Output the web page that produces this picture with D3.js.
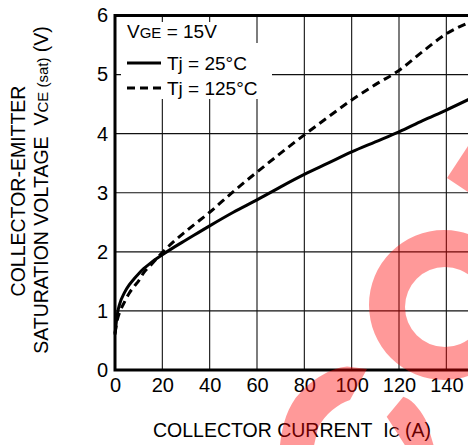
<!DOCTYPE html>
<html>
<head>
<meta charset="utf-8">
<script src="https://cdn.jsdelivr.net/npm/d3@7"></script>
<style>
  html,body{margin:0;padding:0;background:#fff;}
  svg{display:block;font-family:"Liberation Sans",Arial,Helvetica,sans-serif;}
</style>
</head>
<body>
<svg id="chart" width="468" height="445"></svg>
<script>
// collector current Ic (A)
const current=[0,1,2,4,6,8,10,12,15,20,25,30,40,50,60,70,80,90,100,110,120,130,140,150];
// Vce(sat) at Tj = 25°C
const vce25=[0.6,0.95,1.12,1.31,1.44,1.54,1.63,1.71,1.81,1.95,2.08,2.2,2.44,2.67,2.88,3.1,3.31,3.5,3.69,3.86,4.03,4.22,4.4,4.59];
// Vce(sat) at Tj = 125°C
const vce125=[0.62,0.85,0.98,1.15,1.3,1.41,1.51,1.64,1.77,1.99,2.18,2.35,2.67,3.02,3.35,3.67,3.98,4.28,4.57,4.83,5.07,5.39,5.69,5.89];
const xTicks=[0,20,40,60,80,100,120,140];
const yTicks=[0,1,2,3,4,5,6];
const seriesNames=["Tj = 25°C","Tj = 125°C"];

const W=468,H=445;
const font='"Liberation Sans",Arial,Helvetica,sans-serif';
const svg=d3.select("#chart");

const x=d3.scaleLinear().domain([0,150]).range([115,470]);
const y=d3.scaleLinear().domain([0,6]).range([370,15.5]);

// grid
const grid=svg.append("g").attr("stroke","#111").attr("stroke-width",1.1);
grid.selectAll("line.v").data(xTicks.filter(d=>d>0)).join("line").attr("class","v")
  .attr("x1",d=>x(d)).attr("x2",d=>x(d)).attr("y1",y(6)).attr("y2",y(0));
grid.selectAll("line.h").data(yTicks.filter(d=>d>0&&d<6)).join("line").attr("class","h")
  .attr("x1",x(0)).attr("x2",W).attr("y1",d=>y(d)).attr("y2",d=>y(d));

// legend backgrounds hide the grid
svg.append("rect").attr("x",121).attr("y",22).attr("width",130).attr("height",22).attr("fill","#fff");
svg.append("rect").attr("x",121).attr("y",43).attr("width",151).attr("height",56).attr("fill","#fff");

// frame
const frame=svg.append("g").attr("stroke","#000").attr("stroke-width",3).attr("fill","none");
frame.append("path").attr("d",`M${W},${y(6)}H${x(0)}V${y(0)}H${W}`);

// axes
const xAxis=svg.append("g").attr("transform",`translate(0,${y(0)})`)
  .call(d3.axisBottom(x).tickValues(xTicks).tickSize(0).tickPadding(8).tickFormat(d3.format("d")));
const yAxis=svg.append("g").attr("transform",`translate(${x(0)},0)`)
  .call(d3.axisLeft(y).tickValues(yTicks).tickSize(0).tickPadding(7).tickFormat(d3.format("d")));
[xAxis,yAxis].forEach(a=>{
  a.select(".domain").remove();
  a.selectAll("text").attr("font-family",font).attr("font-size",20).attr("fill","#000");
});

// curves
const line=d3.line().x((d,i)=>x(current[i])).y(d=>y(d)).curve(d3.curveMonotoneX);
svg.append("path").datum(vce25).attr("d",line)
  .attr("fill","none").attr("stroke","#000").attr("stroke-width",3);
svg.append("path").datum(vce125).attr("d",line)
  .attr("fill","none").attr("stroke","#000").attr("stroke-width",3).attr("stroke-dasharray","8,5");

// legend
const lg=svg.append("g").attr("font-family",font).attr("font-size",19).attr("fill","#000");
const vge=lg.append("text").attr("x",127).attr("y",38);
vge.append("tspan").text("V");
vge.append("tspan").attr("font-size",15).text("GE");
vge.append("tspan").text(" = 15V");
const rows=[{y:63,dash:null},{y:88,dash:"8,5"}];
rows.forEach((r,i)=>{
  lg.append("line").attr("x1",127).attr("x2",161).attr("y1",r.y).attr("y2",r.y)
    .attr("stroke","#000").attr("stroke-width",3).attr("stroke-dasharray",r.dash);
  lg.append("text").attr("x",167).attr("y",r.y+7).text(seriesNames[i]);
});

// axis titles
const xt=svg.append("text").attr("x",292).attr("y",437).attr("text-anchor","middle")
  .attr("font-family",font).attr("font-size",19.5).attr("fill","#000");
xt.append("tspan").text("COLLECTOR CURRENT\u00a0\u00a0I");
xt.append("tspan").attr("font-size",15).text("C");
xt.append("tspan").text(" (A)");

const yt=svg.append("g").attr("font-family",font).attr("font-size",19.5).attr("fill","#000");
yt.append("text").attr("transform","translate(25,191) rotate(-90)").attr("text-anchor","middle")
  .text("COLLECTOR-EMITTER");
const y2=yt.append("text").attr("transform","translate(48,190) rotate(-90)").attr("text-anchor","middle");
y2.append("tspan").text("SATURATION VOLTAGE\u00a0\u00a0V");
y2.append("tspan").attr("font-size",15).text("CE");
y2.append("tspan").attr("font-size",15).text(" (sat)");
y2.append("tspan").text(" (V)");

// red watermark overlay
const wm=svg.append("g").attr("fill","rgb(255,0,0)").attr("fill-opacity",0.4);
const ring=d3.path();
ring.arc(444,305,75,0,2*Math.PI);ring.moveTo(485,307);ring.arc(445,307,40,0,2*Math.PI);
wm.append("path").attr("d",ring.toString()).attr("fill-rule","evenodd");
wm.append("path").attr("d","M447,178L468,146L468,192Z");
wm.append("path").attr("d","M278,450L280,445C282,425 288,405 300,393C312,380 330,368 347,366.5L367,369L350,400C338,404 325,414 318,428L313,450Z");
wm.append("path").attr("d","M386.7,416.7L403.3,396.7C410,399 414,403 417,407C422,413 425,418 427,423L435,450L408,450Z");
</script>
</body>
</html>
